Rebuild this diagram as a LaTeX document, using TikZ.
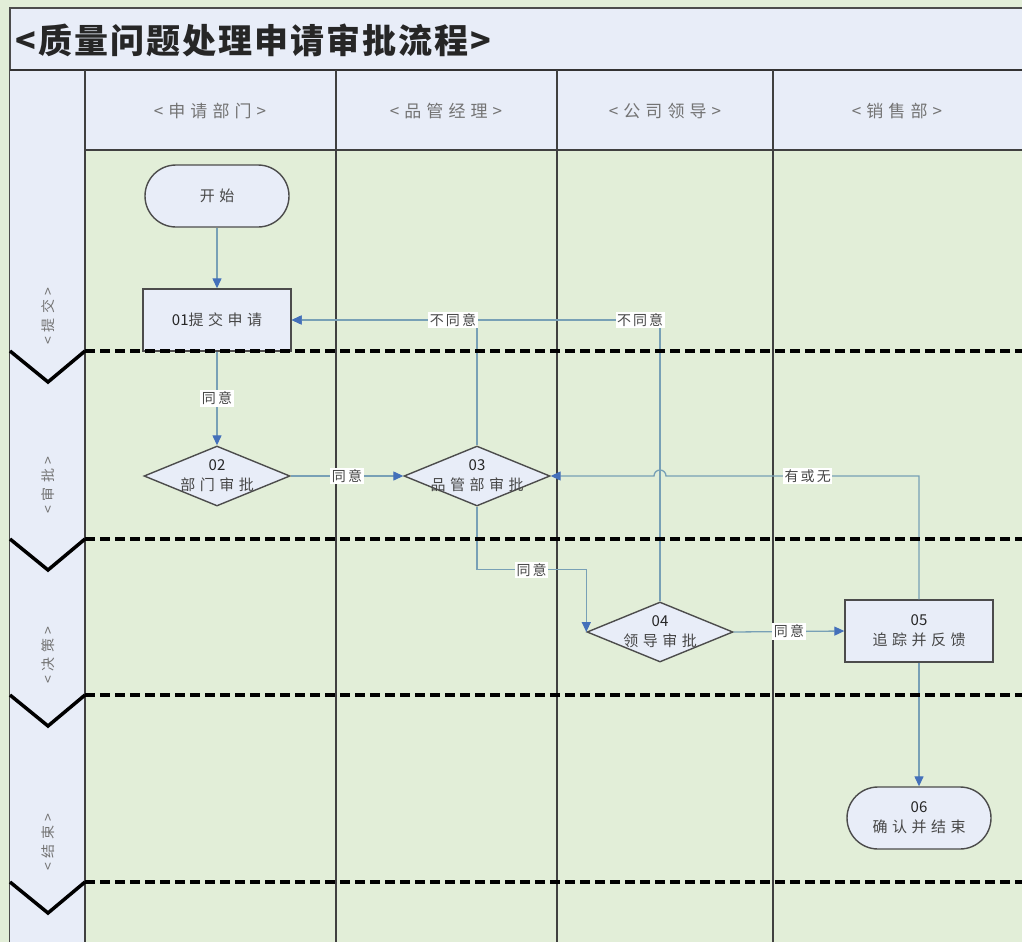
\documentclass[tikz,border=0pt]{standalone}
\usepackage{fontspec}
\setmainfont{Noto Sans CJK SC}
\newfontfamily\widefont[LetterSpace=30]{Noto Sans CJK SC}
\newfontfamily\lblfont[LetterSpace=15]{Noto Sans CJK SC}
\newfontfamily\titlefont[LetterSpace=6]{Noto Sans CJK SC}
\newfontfamily\digitfont{Noto Sans CJK SC}
\newcommand{\nr}[1]{{\digitfont\color{black!85}#1}}
\usetikzlibrary{shapes.geometric,shapes.misc,arrows.meta}
\definecolor{bggreen}{RGB}{226,238,216}
\definecolor{nodeblue}{RGB}{232,237,248}
\definecolor{linec}{RGB}{120,160,182}
\definecolor{arrowc}{RGB}{68,112,186}
\begin{document}
\begin{tikzpicture}[x=1pt,y=-1pt,
  every node/.style={font={\widefont\fontsize{15}{20}\selectfont}, text=black!72},
  lanel/.style={draw=black!75, line width=1.5pt},
  sepl/.style={draw=black, line width=3.5pt, dash pattern=on 10pt off 5pt},
  chev/.style={draw=black, line width=3.5pt},
  hdr/.style={text=black!55, font={\widefont\fontsize{17}{20}\selectfont}},
  phase/.style={rotate=90, text=black!55, font={\widefont\fontsize{14}{18}\selectfont}},
  box/.style={draw=black!70, line width=1.4pt, fill=nodeblue, minimum width=148pt, minimum height=62pt, inner sep=2pt, align=center},
  term/.style={box, rounded rectangle},
  proc/.style={box, rectangle},
  dec/.style={draw=black!70, line width=1.4pt, fill=nodeblue, diamond, minimum width=146pt, minimum height=60pt, inner sep=0pt},
  inner/.style={align=center, inner sep=0pt},
  flow/.style={draw=linec, line width=1.3pt, -{Triangle[length=10pt,width=9pt,color=arrowc]}},
  lbl/.style={fill=white, inner sep=1.5pt, font={\lblfont\fontsize{14}{16}\selectfont}, text=black!72},
]
\useasboundingbox (0,0) rectangle (1022,942);
% background
\fill[bggreen] (0,0) rectangle (1022,942);
% title band
\fill[nodeblue] (10,8) rectangle (1030,70);
\draw[black!70, line width=1.5pt] (10,942) -- (10,8) -- (1030,8);
\node[anchor=west, font={\titlefont\fontsize{34}{40}\selectfont\bfseries}, text=black!85] (title) at (12,40) {<质量问题处理申请审批流程>};
% header row and phase column
\fill[nodeblue] (10,70) rectangle (1030,150);
\fill[nodeblue] (10,150) rectangle (85,942);
\draw[black!80, line width=2pt] (10,70) -- (1030,70);
\draw[black!75, line width=1.5pt] (85,150) -- (1030,150);
\draw[lanel] (85,70) -- (85,942);
\draw[lanel] (336,70) -- (336,942);
\draw[lanel] (557,70) -- (557,942);
\draw[lanel] (773,70) -- (773,942);
\node[hdr] (h1) at (210,111) {<申请部门>};
\node[hdr] (h2) at (446,111) {<品管经理>};
\node[hdr] (h3) at (665,111) {<公司领导>};
\node[hdr] (h4) at (897,111) {<销售部>};
% phase labels
\node[phase] (p1) at (48,316) {<提交>};
\node[phase] (p2) at (48,485) {<审批>};
\node[phase] (p3) at (48,655) {<决策>};
\node[phase] (p4) at (48,842) {<结束>};
% nodes
\node[term] (start) at (217,196) {开始};
\node[proc] (n01) at (217,320) {\nr{01}提交申请};
\node[dec, label={[inner]center:{\nr{02}\\部门审批}}] (n02) at (217,476) {};
\node[dec, label={[inner]center:{\nr{03}\\品管部审批}}] (n03) at (477,476) {};
\node[dec, label={[inner]center:{\nr{04}\\领导审批}}] (n04) at (660,632) {};
\node[proc] (n05) at (919,631) {\nr{05}\\追踪并反馈};
\node[term] (n06) at (919,818) {\nr{06}\\确认并结束};
% connectors
\draw[flow] (start.south) -- (n01.north);
\draw[flow] (n01.south) -- node[lbl] {同意} (n02.north);
\draw[flow] (n02.east) -- node[lbl] {同意} (n03.west);
\draw[flow] (n04.north) |- node[lbl, pos=0.527] {不同意} (n01.east);
\draw[flow] (n03.north) |- node[lbl, pos=0.565] {不同意} (n01.east);
\draw[flow] (n03.south) -- ++(0,63) -| node[lbl, pos=0.25] {同意} (n04.west);
\draw[flow] (n04.east) -- node[lbl] {同意} (n05.west);
\coordinate (hopR) at (666,476);
\draw[flow] (n05.north) |- node[lbl, pos=0.72] {有或无} (hopR) arc[start angle=0, end angle=180, radius=6pt] -- (n03.east);
\draw[flow] (n05.south) -- (n06.north);
% phase separators
\foreach \y in {351,539,695,882}{
  \draw[sepl] (85,\y) -- (1030,\y);
  \draw[chev] (10,\y) -- (48,\y+31) -- (85,\y);
}
\end{tikzpicture}
\end{document}
